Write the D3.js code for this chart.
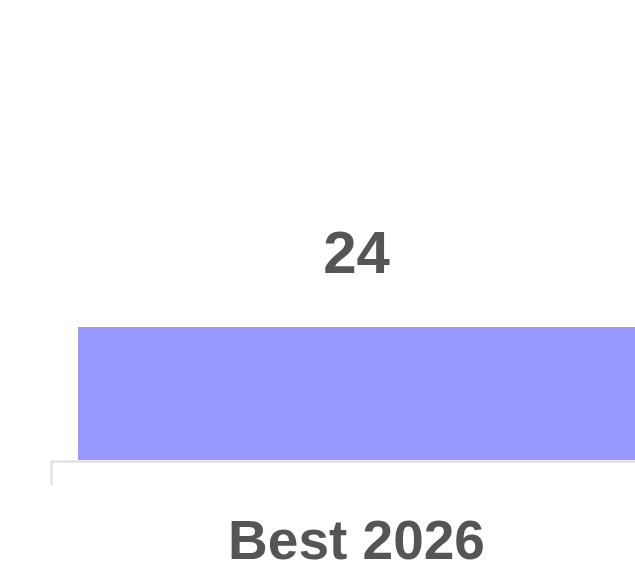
<!DOCTYPE html>
<html>
<head>
<meta charset="utf-8">
<script src="https://cdn.jsdelivr.net/npm/d3@7"></script>
<style>
  body { margin: 0; background: #fff; }
  svg { display: block; }
</style>
</head>
<body>
<div id="chart"></div>
<script>
var vWidth = 635;
var vHeight = 564;

// data
var categories = ["Best 2026"];
var values = [24];

var svg = d3.select("#chart")
    .append("svg")
        .attr("width", vWidth)
        .attr("height", vHeight)
        .style("font-family", "'Liberation Sans', Arial, sans-serif");

// the plot runs past the right edge of the picture
var x = d3.scaleBand()
    .domain(categories)
    .range([51, 662])
    .padding(0.0462);

var y = d3.scaleLinear()
    .domain([0, 30])
    .range([460, 460 - 166.25]);

// bars
svg.selectAll("rect.bar")
    .data(values)
    .enter().append("rect")
        .attr("class", "bar")
        .attr("x", function (d, i) { return x(categories[i]); })
        .attr("y", function (d) { return y(d); })
        .attr("width", x.bandwidth())
        .attr("height", function (d) { return y(0) - y(d); })
        .style("fill", "#9999ff");

// value labels
svg.selectAll("text.val")
    .data(values)
    .enter().append("text")
        .attr("class", "val")
        .attr("x", function (d, i) { return x(categories[i]) + x.bandwidth() / 2; })
        .attr("y", function (d) { return y(d) - 54; })
        .attr("text-anchor", "middle")
        .style("font-size", "60px")
        .style("font-weight", "bold")
        .style("fill", "#555555")
        .text(function (d) { return d; });

// x axis
var xAxis = svg.append("g")
    .attr("transform", "translate(0,461)")
    .call(d3.axisBottom(x).tickSizeInner(0).tickSizeOuter(24).tickPadding(0));

xAxis.select(".domain")
    .style("stroke", "#dddddd")
    .style("stroke-width", 2);

xAxis.selectAll(".tick text")
    .attr("dy", null)
    .attr("y", 98)
    .style("font-family", "'Liberation Sans', Arial, sans-serif")
    .style("font-size", "55px")
    .style("font-weight", "bold")
    .style("fill", "#555555");
</script>
</body>
</html>
